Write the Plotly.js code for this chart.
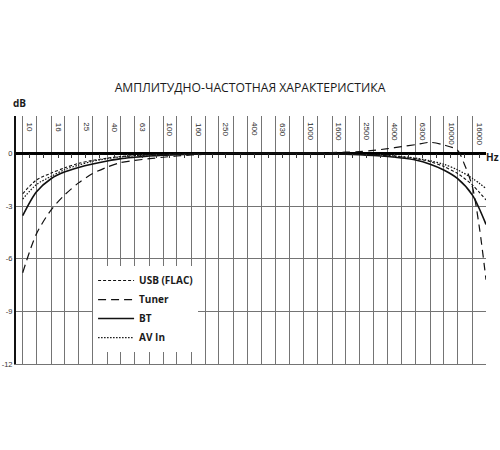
<!DOCTYPE html>
<html>
<head>
<meta charset="utf-8">
<script src="https://cdn.plot.ly/plotly-3.0.1.min.js"></script>
<style>body{margin:0;background:#fff}</style>
</head>
<body>
<div id="myDiv" style="width:500px;height:450px"></div>
<script>
// 1/3 octave frequencies (gridlines)
var freqs = [10, 12.5, 16, 20, 25, 31.5, 40, 50, 63, 80, 100, 125, 160, 200, 250, 315, 400, 500,
  630, 800, 1000, 1250, 1600, 2000, 2500, 3150, 4000, 5000, 6300, 8000, 10000, 12500, 16000, 20000];

var xLabels = ['10', '16', '25', '40', '63', '100', '160', '250', '400', '630', '1000', '1600',
  '2500', '4000', '6300', '10000', '16000'];

var yTicks = [-12, -9, -6, -3, 0];
var yTickText = ['-12', '-9', '-6', '-3', '0'];

var usbFlac = [-2.3, -1.52, -1.12, -0.82, -0.57, -0.4, -0.27, -0.18, -0.12, -0.08, -0.05, -0.03, -0.02, -0.01,
  0, 0, 0, 0, 0, 0, 0, 0, -0.01, -0.03, -0.06, -0.09, -0.13, -0.2, -0.3, -0.47, -0.75, -1.14, -1.8, -2.65];

var bt = [-3.55, -2.2, -1.43, -1.05, -0.8, -0.6, -0.43, -0.3, -0.22, -0.15, -0.1, -0.07, -0.05, -0.03,
  -0.02, -0.01, 0, 0, 0, 0, 0, 0, -0.02, -0.05, -0.08, -0.12, -0.18, -0.26, -0.38, -0.62, -0.95, -1.43, -2.38, -4.05];

var avIn = [-2.6, -1.78, -1.3, -0.92, -0.67, -0.45, -0.3, -0.2, -0.14, -0.09, -0.06, -0.04, -0.02, -0.01,
  0, 0, 0, 0, 0, 0, 0, 0, -0.01, -0.02, -0.05, -0.08, -0.12, -0.18, -0.27, -0.42, -0.62, -0.93, -1.42, -2.0];

// tuner has a few extra points in the top octave
var tunerFreqs = [10, 12.5, 16, 20, 25, 31.5, 40, 50, 63, 80, 100, 125, 160, 200, 250, 315, 400, 500,
  630, 800, 1000, 1250, 1600, 2000, 2500, 3150, 4000, 5000, 6300, 8000, 10000, 12500, 14000, 16000, 18000, 20000];
var tuner = [-6.8, -4.6, -3.2, -2.35, -1.68, -1.15, -0.78, -0.52, -0.4, -0.3, -0.22, -0.15, -0.09, -0.05,
  -0.02, 0, 0, 0, 0, 0.01, 0.03, 0.04, 0.05, 0.07, 0.1, 0.17, 0.27, 0.38, 0.5, 0.63, 0.48, 0.19, -0.6, -1.9, -4.3, -7.2];

var xRange = [Math.log10(8.957), Math.log10(20000)];
var yRange = [-12, 2.13];
var zeroPos = (0 - yRange[0]) / (yRange[1] - yRange[0]);

// middle of every cell (small ticks on the 0 dB line)
var cellMid = [];
for (var j = 0; j < freqs.length - 1; j++) {
  cellMid.push(Math.sqrt(freqs[j] * freqs[j + 1]));
}

// frequency labels sit inside the top of the plot, in every other cell
var labelNotes = xLabels.map(function (t, i) {
  return {
    text: t, xref: 'x', yref: 'paper', x: Math.log10(cellMid[2 * i]), y: 0.982,
    xanchor: 'center', yanchor: 'top', textangle: 90, showarrow: false,
    font: {family: 'Liberation Sans, Arial, sans-serif', size: 8, color: '#2a2a2a'}
  };
});

function line(name, x, y, dash, width) {
  return {
    x: x, y: y, name: name, type: 'scatter', mode: 'lines',
    line: {color: '#111', width: width, dash: dash, shape: 'spline', smoothing: 0.8},
    hoverinfo: 'skip'
  };
}

var data = [
  line('USB (FLAC)', freqs, usbFlac, '3px,2px', 1.1),
  line('Tuner', tunerFreqs, tuner, '8px,5px', 1.2),
  line('BT', freqs, bt, 'solid', 1.6),
  line('AV In', freqs, avIn, '1.5px,1.5px', 1.2),
  // empty trace so the helper axes (ticks on the 0 dB line) get drawn
  {x: [], y: [], type: 'scatter', mode: 'lines', xaxis: 'x3', yaxis: 'y3',
    showlegend: false, hoverinfo: 'skip'}
];

var gridCol = '#747474';

var layout = {
  width: 500, height: 450,
  margin: {l: 16, r: 14, t: 116, b: 86},
  paper_bgcolor: '#fff', plot_bgcolor: 'rgba(0,0,0,0)',
  font: {family: 'Liberation Sans, Arial, sans-serif', color: '#333'},
  title: {
    text: 'АМПЛИТУДНО-ЧАСТОТНАЯ ХАРАКТЕРИСТИКА',
    font: {family: 'Open Sans', size: 12.2, color: '#1a1a1a'},
    xref: 'container', x: 0.5, xanchor: 'center',
    yref: 'container', y: 1 - 88 / 450, yanchor: 'middle'
  },
  showlegend: true,
  legend: {
    x: 0.164, y: 0.395, xanchor: 'left', yanchor: 'top',
    bgcolor: '#fff', borderwidth: 0,
    font: {family: 'Open Sans', size: 10, color: '#1a1a1a', weight: 700},
    itemwidth: 36, tracegroupgap: 0
  },
  xaxis: {
    type: 'log', range: xRange,
    tickvals: freqs, ticktext: freqs.map(function () { return ''; }),
    ticks: '', showgrid: true, gridcolor: gridCol, gridwidth: 1,
    showline: true, linecolor: gridCol, linewidth: 1,
    zeroline: false, fixedrange: true
  },
  xaxis2: {
    type: 'log', range: xRange, overlaying: 'x', side: 'top', anchor: 'y',
    showticklabels: false, ticks: '',
    showgrid: false, showline: true, linecolor: gridCol, linewidth: 1
  },
  // helper axis pair: its bottom edge lies on the 0 dB line
  xaxis3: {
    type: 'log', range: xRange, anchor: 'y3', domain: [0, 1],
    tickvals: cellMid, ticks: 'outside', ticklen: 4, tickwidth: 1, tickcolor: '#333',
    showticklabels: false, showgrid: false, showline: false, zeroline: false
  },
  yaxis3: {
    domain: [zeroPos, 1], anchor: 'x3', range: [0, 1],
    showticklabels: false, ticks: '', showgrid: false, showline: false, zeroline: false
  },
  yaxis: {
    range: yRange, tickvals: yTicks, ticktext: yTickText,
    tickfont: {size: 7.5, color: '#333'},
    ticks: '', showgrid: true, gridcolor: gridCol, gridwidth: 1,
    showline: true, linecolor: '#111', linewidth: 2,
    zeroline: true, zerolinecolor: '#000', zerolinewidth: 2.5,
    fixedrange: true
  },
  yaxis2: {
    range: yRange, overlaying: 'y', side: 'right', anchor: 'x',
    showticklabels: false, ticks: '', showgrid: false, zeroline: false,
    showline: true, linecolor: gridCol, linewidth: 1
  },
  annotations: labelNotes.concat([
    {text: '<b>dB</b>', xref: 'paper', yref: 'paper', x: 0.0085, y: 1.052,
      xanchor: 'center', yanchor: 'middle',
      showarrow: false, font: {family: 'Open Sans', size: 10, color: '#1a1a1a'}},
    {text: '<b>Hz</b>', xref: 'paper', yref: 'paper', x: 1.0, xanchor: 'left', xshift: -1, y: 0.835,
      yanchor: 'middle', borderpad: 0,
      showarrow: false, font: {family: 'Open Sans', size: 10, color: '#1a1a1a'}}
  ])
};

Plotly.newPlot('myDiv', data, layout, {displayModeBar: false, staticPlot: true});
</script>
</body>
</html>
